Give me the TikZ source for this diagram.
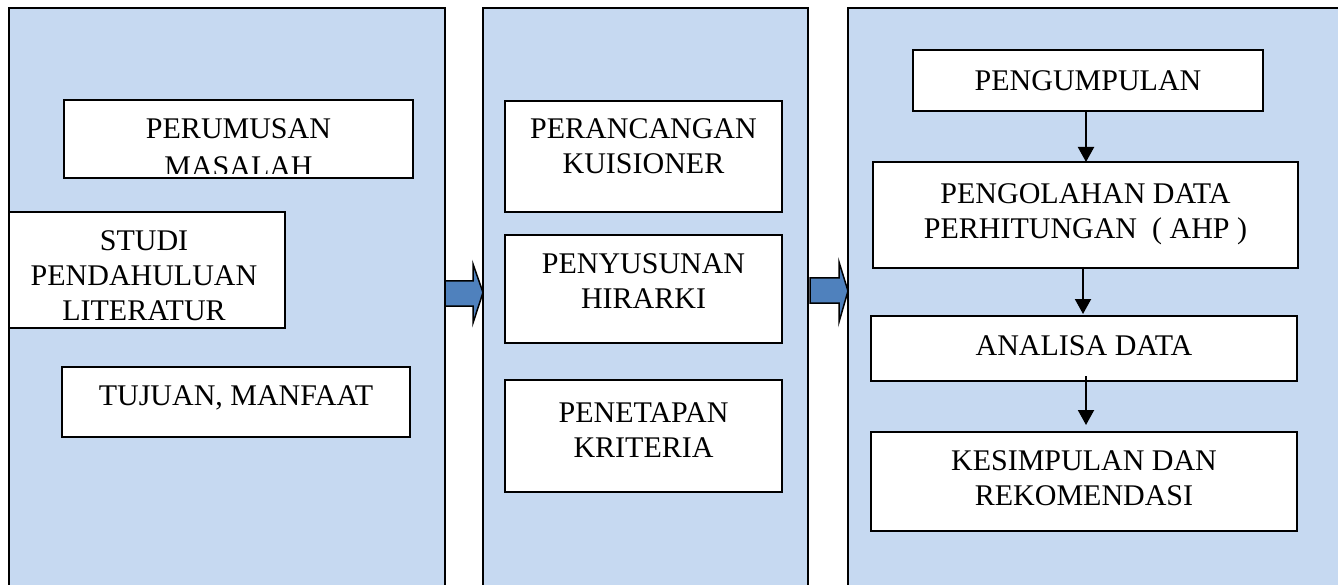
\documentclass[tikz,border=0pt]{standalone}
\usepackage{fontspec}
\setmainfont{Liberation Serif}
\usetikzlibrary{fit,arrows.meta}
\definecolor{panelblue}{HTML}{C6D9F1}
\definecolor{arrowblue}{HTML}{4F81BD}
\begin{document}
\begin{tikzpicture}[x=1pt,y=-1pt,
  panel/.style={draw=black, line width=2pt, fill=panelblue, inner sep=0pt, outer sep=0pt},
  box/.style={draw=black, line width=1.6pt, fill=white, inner sep=0pt, outer sep=0pt},
  txt/.style={font=\fontsize{30}{35}\selectfont, align=center, inner sep=0pt, anchor=north},
  flow/.style={line width=2pt, -{Triangle[width=16pt,length=15pt]}},
  blockarrow/.style={draw=black, line width=1.5pt, fill=arrowblue, line join=miter}]
\useasboundingbox (0,0) rectangle (1338,585);
\clip (0,0) rectangle (1338,585);
% panels
\node[panel, fit={(9,8) (445,620)}] (p1) {};
\node[panel, fit={(483,8) (808,620)}] (p2) {};
\node[panel, fit={(848,8) (1360,620)}] (p3) {};
% block arrows between panels
\draw[blockarrow] (p1.east |- 0,281) -- (473,281) -- (473,264) -- (p2.west |- 0,292.5) -- (473,323) -- (473,306) -- (p1.east |- 0,306) -- cycle;
\draw[blockarrow] (810,278) -- (839,278) -- (839,262) -- (p3.west |- 0,291) -- (839,322) -- (839,303) -- (810,303) -- cycle;
% panel 1
\node[box, fit={(64,100) (413,178)}] (perumusan) {};
\begin{scope}
\clip (64,100) rectangle (413,174);
\node[txt] (perumusan-t) at ([yshift=-18.5pt]perumusan.north) {PERUMUSAN\\[3pt]MASALAH};
\end{scope}
\node[box, fit={(9,212) (285,328)}] (studi) {};
\node[txt] (studi-t) at ([yshift=-18pt,xshift=-3pt]studi.north) {STUDI\\PENDAHULUAN\\LITERATUR};
\node[box, fit={(62,367) (410,437)}] (tujuan) {};
\node[txt] (tujuan-t) at ([yshift=-18pt]tujuan.north) {TUJUAN, MANFAAT};
% panel 2
\node[box, fit={(505,101) (782,212)}] (perancangan) {};
\node[txt] (perancangan-t) at ([yshift=-17pt]perancangan.north) {PERANCANGAN\\KUISIONER};
\node[box, fit={(505,235) (782,343)}] (penyusunan) {};
\node[txt] (penyusunan-t) at ([yshift=-18pt]penyusunan.north) {PENYUSUNAN\\HIRARKI};
\node[box, fit={(505,380) (782,492)}] (penetapan) {};
\node[txt] (penetapan-t) at ([yshift=-22pt]penetapan.north) {PENETAPAN\\KRITERIA};
% panel 3
\node[box, fit={(913,50) (1263,111)}] (pengumpulan) {};
\node[txt] (pengumpulan-t) at ([yshift=-20pt]pengumpulan.north) {PENGUMPULAN};
\node[box, fit={(873,162) (1298,268)}] (pengolahan) {};
\node[txt] (pengolahan-t) at ([yshift=-21pt]pengolahan.north) {PENGOLAHAN DATA\\PERHITUNGAN\ \ ( AHP )};
\node[box, fit={(871,316) (1297,381)}] (analisa) {};
\node[txt] (analisa-t) at ([yshift=-19pt]analisa.north) {ANALISA DATA};
\node[box, fit={(871,432) (1297,531)}] (kesimpulan) {};
\node[txt] (kesimpulan-t) at ([yshift=-18pt]kesimpulan.north) {KESIMPULAN DAN\\REKOMENDASI};
% flow arrows
\draw[flow] ([xshift=-2pt]pengumpulan.south) -- ([xshift=-2pt]pengumpulan.south |- pengolahan.north);
\draw[flow] ([xshift=-2.5pt,yshift=1pt]pengolahan.south) -- ([xshift=-2.5pt,yshift=2pt]pengolahan.south |- analisa.north);
\draw[flow] ([xshift=2pt,yshift=5pt]analisa.south) -- ([xshift=2pt,yshift=7pt]analisa.south |- kesimpulan.north);
\end{tikzpicture}
\end{document}
